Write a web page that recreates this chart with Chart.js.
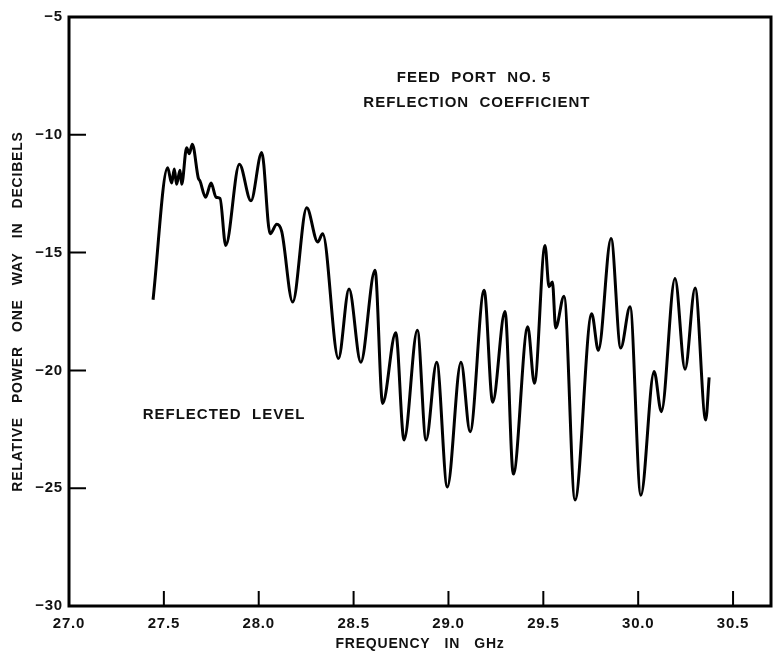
<!DOCTYPE html>
<html>
<head>
<meta charset="utf-8">
<script src="https://cdn.jsdelivr.net/npm/chart.js@4"></script>
<style>
  html, body { margin: 0; padding: 0; background: #ffffff; }
  #c { display: block; }
</style>
</head>
<body>
<canvas id="c" width="779" height="653"></canvas>
<script>
// Frequency in GHz
const freqGHz = [
  27.443, 27.520, 27.541, 27.555, 27.567, 27.585, 27.594, 27.620, 27.634, 27.650,
  27.682, 27.690, 27.720, 27.749, 27.775, 27.796, 27.826, 27.898, 27.959, 28.016,
  28.060, 28.095, 28.121, 28.179, 28.253, 28.311, 28.337, 28.420, 28.476, 28.538,
  28.613, 28.653, 28.722, 28.766, 28.836, 28.882, 28.938, 28.994, 29.066, 29.114,
  29.188, 29.233, 29.298, 29.342, 29.418, 29.453, 29.509, 29.530, 29.548, 29.565,
  29.609, 29.667, 29.755, 29.790, 29.857, 29.908, 29.957, 30.014, 30.084, 30.122,
  30.194, 30.247, 30.300, 30.356, 30.374
];
// Reflected level, dB
const reflectedDb = [
  -17.0, -11.4, -12.05, -11.45, -12.1, -11.5, -12.1, -10.55, -10.8, -10.4,
  -11.85, -11.95, -12.65, -12.05, -12.65, -12.7, -14.7, -11.25, -12.8, -10.75,
  -14.2, -13.8, -14.1, -17.1, -13.1, -14.55, -14.2, -19.5, -16.55, -19.65,
  -15.75, -21.4, -18.4, -22.95, -18.3, -22.95, -19.65, -24.95, -19.65, -22.6,
  -16.6, -21.35, -17.5, -24.4, -18.15, -20.55, -14.7, -16.45, -16.25, -18.2,
  -16.85, -25.5, -17.6, -19.15, -14.4, -19.05, -17.3, -25.3, -20.05, -21.75,
  -16.1, -19.95, -16.5, -22.1, -20.3
];
const xTickValues = [27.0, 27.5, 28.0, 28.5, 29.0, 29.5, 30.0, 30.5];
const yTickValues = [-5, -10, -15, -20, -25, -30];

const titleText = ["FEED  PORT  NO. 5", "REFLECTION  COEFFICIENT"];
const curveLabel = "REFLECTED  LEVEL";
const xTitle = "FREQUENCY   IN   GHz";
const yTitle = "RELATIVE   POWER   ONE   WAY   IN   DECIBELS";

const FONT = "'Liberation Sans', Arial, Helvetica, sans-serif";

const points = freqGHz.map((f, i) => ({ x: f, y: reflectedDb[i] }));

const framePlugin = {
  id: 'frame',
  beforeDraw(chart) {
    chart.ctx.letterSpacing = '0.8px';
  },
  afterDraw(chart) {
    const { ctx, chartArea: a, scales } = chart;
    ctx.save();
    ctx.strokeStyle = '#000';
    ctx.lineWidth = 3;
    ctx.strokeRect(a.left, a.top, a.right - a.left, a.bottom - a.top);
    ctx.lineWidth = 2;
    ctx.beginPath();
    xTickValues.forEach(v => {
      if (v === scales.x.min) return;
      const px = scales.x.getPixelForValue(v);
      ctx.moveTo(px, a.bottom);
      ctx.lineTo(px, a.bottom - 15);
    });
    yTickValues.forEach(v => {
      if (v === scales.y.min || v === scales.y.max) return;
      const py = scales.y.getPixelForValue(v);
      ctx.moveTo(a.left, py);
      ctx.lineTo(a.left + 17, py);
    });
    ctx.stroke();
    // annotations
    ctx.fillStyle = '#111';
    ctx.textAlign = 'center';
    ctx.textBaseline = 'middle';
    ctx.font = 'bold 15px ' + FONT;
    ctx.letterSpacing = '1px';
    ctx.fillText(titleText[0], scales.x.getPixelForValue(29.135), scales.y.getPixelForValue(-7.6));
    ctx.fillText(titleText[1], scales.x.getPixelForValue(29.15), scales.y.getPixelForValue(-8.66));
    ctx.fillText(curveLabel, scales.x.getPixelForValue(27.817), scales.y.getPixelForValue(-21.9));
    ctx.restore();
  }
};

new Chart(document.getElementById('c'), {
  type: 'line',
  data: {
    datasets: [{
      data: points,
      borderColor: '#000',
      borderWidth: 3,
      pointRadius: 0,
      fill: false,
      cubicInterpolationMode: 'monotone'
    }]
  },
  options: {
    responsive: false,
    animation: false,
    events: [],
    layout: { padding: { top: 17, right: 8, left: 0, bottom: 0 } },
    plugins: { legend: { display: false }, tooltip: { enabled: false } },
    scales: {
      x: {
        type: 'linear',
        min: 27.0,
        max: 30.7,
        afterFit(s) { s.height = 47; },
        afterBuildTicks(s) { s.ticks = xTickValues.map(v => ({ value: v })); },
        grid: { display: false, drawTicks: false },
        border: { display: false },
        ticks: {
          padding: 9,
          color: '#111',
          font: { family: FONT, size: 15, weight: 'bold' },
          callback: v => Number(v).toFixed(1)
        },
        title: {
          display: true,
          text: xTitle,
          color: '#111',
          font: { family: FONT, size: 14, weight: 'bold' },
          padding: { top: 0, bottom: 0 }
        }
      },
      y: {
        type: 'linear',
        min: -30,
        max: -5,
        afterFit(s) { s.width = 69; },
        afterBuildTicks(s) { s.ticks = yTickValues.map(v => ({ value: v })); },
        grid: { display: false, drawTicks: false },
        border: { display: false },
        ticks: {
          padding: 6,
          color: '#111',
          font: { family: FONT, size: 15, weight: 'bold' },
          callback: v => '\u2212' + Math.abs(v)
        },
        title: {
          display: true,
          text: yTitle,
          color: '#111',
          font: { family: FONT, size: 14, weight: 'bold' },
          padding: { top: 10, bottom: 0 }
        }
      }
    }
  },
  plugins: [framePlugin]
});
</script>
</body>
</html>
